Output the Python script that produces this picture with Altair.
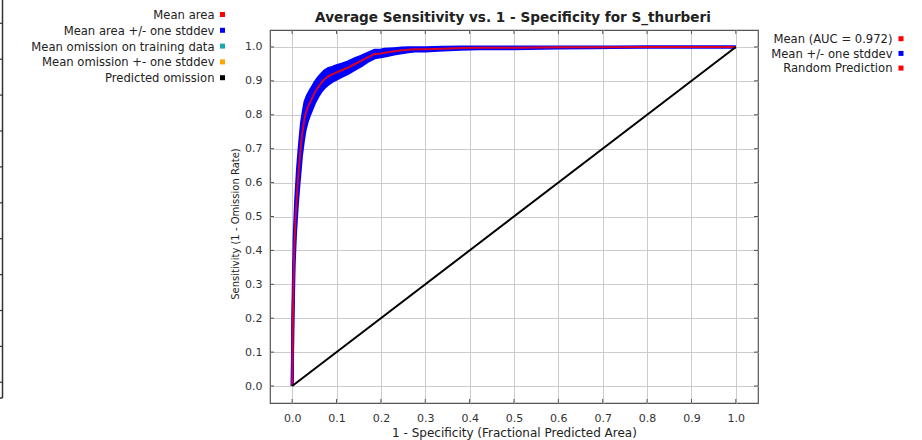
import altair as alt
import pandas as pd

# ---- data ----
fpr = [0.0, 0.0008, 0.0016, 0.003, 0.0045, 0.0077, 0.012, 0.015, 0.017, 0.021,
       0.025, 0.029, 0.034, 0.040, 0.046, 0.051, 0.058, 0.066, 0.073, 0.081,
       0.090, 0.100, 0.113, 0.126, 0.140, 0.156, 0.170, 0.186, 0.200, 0.209,
       0.230, 0.247, 0.262, 0.277, 0.300, 0.340, 0.380, 0.420, 0.500, 0.600,
       0.680, 0.800, 0.900, 1.000]
mean_sens = [0.0, 0.10, 0.20, 0.30, 0.40, 0.50, 0.59, 0.64, 0.67, 0.728,
             0.765, 0.797, 0.818, 0.836, 0.852, 0.866, 0.881, 0.895, 0.905, 0.913,
             0.919, 0.925, 0.932, 0.939, 0.949, 0.959, 0.969, 0.979, 0.981, 0.983,
             0.987, 0.990, 0.992, 0.993, 0.993, 0.995, 0.997, 0.998, 0.998, 0.999,
             0.999, 1.0, 1.0, 1.0]
sd_sens = [0.0, 0.015, 0.025, 0.035, 0.04, 0.045, 0.05, 0.05, 0.05, 0.048,
           0.045, 0.042, 0.038, 0.034, 0.031, 0.029, 0.027, 0.025, 0.024, 0.023,
           0.021, 0.02, 0.018, 0.017, 0.016, 0.014, 0.012, 0.011, 0.010, 0.010,
           0.008, 0.007, 0.006, 0.005, 0.005, 0.004, 0.004, 0.003, 0.003, 0.002,
           0.001, 0.0, 0.0, 0.0]
random_x = [0.0, 1.0]
random_y = [0.0, 1.0]
tick_values = [0.0, 0.1, 0.2, 0.3, 0.4, 0.5, 0.6, 0.7, 0.8, 0.9, 1.0]

left_labels = ["Mean area", "Mean area +/- one stddev", "Mean omission on training data",
               "Mean omission +- one stddev", "Predicted omission"]
left_colors = ["#ff0000", "#0000ff", "#1aa8a8", "#ffa500", "#000000"]
right_labels = ["Mean (AUC = 0.972)", "Mean +/- one stddev", "Random Prediction"]
right_colors = ["#ff0000", "#0000ff", "#ff0000"]
left_frag_ticks = 11

TITLE = "Average Sensitivity vs. 1 - Specificity for S_thurberi"
XTITLE = "1 - Specificity (Fractional Predicted Area)"
YTITLE = "Sensitivity (1 - Omission Rate)"

# ---- layout ----
W, H = 488, 373
L, T = 270, 30
FONT = "DejaVu Sans"
BORDER = "#555555"

roc = pd.DataFrame({
    "fpr": fpr,
    "mean": mean_sens,
    "lower": [max(0.0, m - s) for m, s in zip(mean_sens, sd_sens)],
    "upper": [min(1.0, m + s) for m, s in zip(mean_sens, sd_sens)],
})
rand = pd.DataFrame({"fpr": random_x, "sens": random_y})
ticks = pd.DataFrame({"v": tick_values})

xscale = alt.Scale(domain=[-0.05, 1.05], nice=False, zero=False)
yscale = alt.Scale(domain=[-0.05, 1.05], nice=False, zero=False)
xaxis = alt.Axis(values=tick_values, format=".1f", title=XTITLE, labelPadding=9,
                 titlePadding=4, titleFontSize=12)
yaxis = alt.Axis(values=tick_values, format=".1f", title=YTITLE, labelPadding=8,
                 titlePadding=4, titleFontSize=10, titleY=H / 2 + 7)


def X(f):
    return alt.X(f, scale=xscale, axis=xaxis)


def Y(f):
    return alt.Y(f, scale=yscale, axis=yaxis)


band = alt.Chart(roc).mark_area(color="#0000ff", opacity=1).encode(
    x=X("fpr:Q"), y=Y("lower:Q"), y2="upper:Q")
lower_line = alt.Chart(roc).mark_line(color="#0000ff", strokeWidth=3).encode(
    x=X("fpr:Q"), y=Y("lower:Q"))
upper_line = alt.Chart(roc).mark_line(color="#0000ff", strokeWidth=3).encode(
    x=X("fpr:Q"), y=Y("upper:Q"))
mean_line = alt.Chart(roc).mark_line(color="#ff0000", strokeWidth=2, opacity=0.85).encode(
    x=X("fpr:Q"), y=Y("mean:Q"))
rand_line = alt.Chart(rand).mark_line(color="#000000", strokeWidth=2).encode(
    x=X("fpr:Q"), y=Y("sens:Q"))

# inside tick marks on all four sides
tk_top = alt.Chart(ticks).mark_rule(color=BORDER).encode(
    x=X("v:Q"), y=alt.value(0), y2=alt.value(4))
tk_bot = alt.Chart(ticks).mark_rule(color=BORDER).encode(
    x=X("v:Q"), y=alt.value(H - 4), y2=alt.value(H))
tk_left = alt.Chart(ticks).mark_rule(color=BORDER).encode(
    y=Y("v:Q"), x=alt.value(0), x2=alt.value(4))
tk_right = alt.Chart(ticks).mark_rule(color=BORDER).encode(
    y=Y("v:Q"), x=alt.value(W - 4), x2=alt.value(W))

layers = [band, lower_line, upper_line, mean_line, rand_line, tk_top, tk_bot, tk_left, tk_right]

one = alt.Data(values=[{"k": 1}])

# chart title as a text mark (kept clear of the off-plot decorations)
layers.append(alt.Chart(one).mark_text(text=TITLE, align="center", baseline="middle",
                                       font=FONT, fontSize=13.6, fontWeight="bold",
                                       color="#222").encode(
    x=alt.value(W / 2 - 1), y=alt.value(18 - T)))

# legends (symbol to the right of right-aligned text)
for i, (lab, col) in enumerate(zip(left_labels, left_colors)):
    ty = 16 - T + i * 15.8
    layers.append(alt.Chart(one).mark_text(text=lab, align="right", baseline="middle",
                                           font=FONT, fontSize=11.6, color="#222").encode(
        x=alt.value(214.5 - L), y=alt.value(ty)))
    layers.append(alt.Chart(one).mark_square(color=col, size=25, opacity=1).encode(
        x=alt.value(222.5 - L), y=alt.value(ty - 1.5)))
for i, (lab, col) in enumerate(zip(right_labels, right_colors)):
    ty = 40 - T + i * 14.7
    layers.append(alt.Chart(one).mark_text(text=lab, align="right", baseline="middle",
                                           font=FONT, fontSize=11.6, color="#222").encode(
        x=alt.value(892.5 - L), y=alt.value(ty)))
    layers.append(alt.Chart(one).mark_square(color=col, size=25, opacity=1).encode(
        x=alt.value(901 - L), y=alt.value(ty - 1.3)))

# fragment of a neighbouring chart at the far left edge
layers.append(alt.Chart(one).mark_rule(color="#333", strokeWidth=1.5).encode(
    x=alt.value(2.5 - L), y=alt.value(0 - T), y2=alt.value(398 - T)))
layers.append(alt.Chart(one).mark_rule(color="#333", strokeWidth=1.5).encode(
    x=alt.value(0 - L), x2=alt.value(2.5 - L), y=alt.value(398 - T)))
for i in range(left_frag_ticks):
    yy = 23.3 + i * 35.9 - T
    layers.append(alt.Chart(one).mark_rule(color="#333", strokeWidth=1.2).encode(
        x=alt.value(0 - L), x2=alt.value(2.5 - L), y=alt.value(yy)))

chart = alt.layer(*layers).properties(
    width=W, height=H,
    padding={"left": L, "top": T, "right": 922 - L - W, "bottom": 440 - T - H},
    autosize=alt.AutoSizeParams(type="none"),
).configure_view(
    stroke=BORDER, strokeWidth=1.2
).configure_axis(
    domain=False, ticks=False, grid=True, gridColor="#cccccc", gridWidth=1,
    labelFont=FONT, labelFontSize=11, labelColor="#333",
    titleFont=FONT, titleFontWeight="normal", titleColor="#222",
)

chart.save("out.html", embed_options={"renderer": "svg", "actions": False})
